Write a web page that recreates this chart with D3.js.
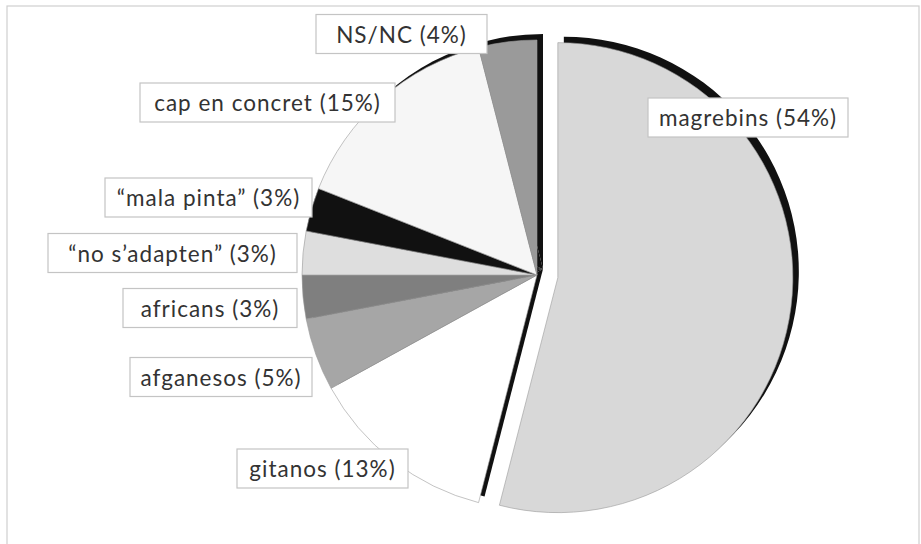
<!DOCTYPE html>
<html>
<head>
<meta charset="utf-8">
<script src="https://cdn.jsdelivr.net/npm/d3@7"></script>
<style>
  html, body { margin: 0; padding: 0; background: #fff; }
  svg { display: block; }
</style>
</head>
<body>
<svg id="chart" width="921" height="544"></svg>
<script>
// ---- data ----
const categories = ["magrebins", "gitanos", "afganesos", "africans", "“no s’adapten”", "“mala pinta”", "cap en concret", "NS/NC"];
const values = [54, 13, 5, 3, 3, 3, 15, 4];

// ---- styles / layout ----
const fills = ["#d8d8d8", "#ffffff", "#a6a6a6", "#7f7f7f", "#dedede", "#111111", "#f6f6f6", "#9a9a9a"];
const labelCenters = [[748, 117.5], [322.5, 468.5], [221, 377], [210, 308], [172.5, 253], [208.5, 197.5], [267.5, 102.5], [401.5, 34]];
const labelBoxWidths = [200, 171, 182, 174, 249, 207, 255, 171];
const explode = [21, 0, 0, 0, 0, 0, 0, 0];

const cx = 537, cy = 275, R = 235;
const shadow = [6, -6];

const svg = d3.select("#chart");

// outer frame
svg.append("rect").attr("x", 7).attr("y", 6).attr("width", 912).attr("height", 560)
  .attr("fill", "none").attr("stroke", "#cfcfcf").attr("stroke-width", 1.2);

const data = categories.map((c, i) => ({ cat: c, value: values[i], i }));
const pie = d3.pie().value(d => d.value).sort(null).startAngle(0).endAngle(2 * Math.PI);
const arcs = pie(data);
const arcGen = d3.arc().innerRadius(0).outerRadius(R);

function offsetOf(a) {
  const mid = (a.startAngle + a.endAngle) / 2;
  const e = explode[a.data.i];
  return [Math.sin(mid) * e, -Math.cos(mid) * e];
}

const g = svg.append("g").attr("transform", `translate(${cx},${cy})`);

// shadows
g.append("g").selectAll("path").data(arcs).join("path")
  .attr("d", arcGen)
  .attr("transform", d => { const o = offsetOf(d); return `translate(${o[0] + shadow[0]},${o[1] + shadow[1]})`; })
  .attr("fill", "#111");

// slices
g.append("g").selectAll("path").data(arcs).join("path")
  .attr("d", arcGen)
  .attr("transform", d => { const o = offsetOf(d); return `translate(${o[0]},${o[1]})`; })
  .attr("fill", d => fills[d.data.i])
  .attr("stroke", "#9a9a9a")
  .attr("stroke-width", 0.6);

// labels
const lg = svg.append("g");
arcs.forEach(a => {
  const [lx, ly] = labelCenters[a.data.i];
  const bw = labelBoxWidths[a.data.i], bh = 39;
  const grp = lg.append("g");
  grp.append("rect")
    .attr("x", lx - bw / 2).attr("y", ly - bh / 2)
    .attr("width", bw).attr("height", bh)
    .attr("fill", "#fff").attr("stroke", "#c4c4c4").attr("stroke-width", 1.2);
  grp.append("text")
    .attr("x", lx).attr("y", ly)
    .attr("text-anchor", "middle")
    .attr("dominant-baseline", "central")
    .attr("font-family", "Lato, 'Open Sans', sans-serif")
    .attr("font-size", 22.5)
    .attr("letter-spacing", 1)
    .attr("fill", "#333")
    .text(`${a.data.cat} (${a.data.value}%)`);
});
</script>
</body>
</html>
